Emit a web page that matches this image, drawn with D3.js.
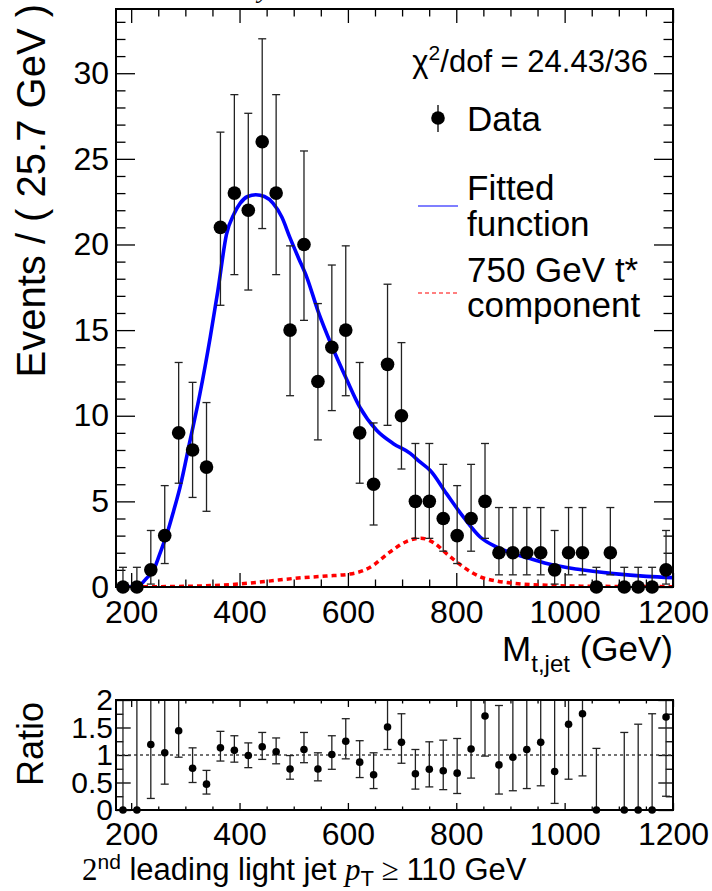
<!DOCTYPE html>
<html>
<head>
<meta charset="utf-8">
<script src="https://cdn.jsdelivr.net/npm/d3@7"></script>
<style>
  body { margin: 0; background: #fff; }
  text { font-family: "Liberation Sans", Arial, Helvetica, sans-serif; fill: #000; }
</style>
</head>
<body>
<div id="chart"></div>
<script>

// bin centres (GeV), 40 bins of 25.7 GeV
var binCenters = [184.85, 210.55, 236.25, 261.95, 287.65, 313.35, 339.05, 364.75, 390.45, 416.15,
  441.85, 467.55, 493.25, 518.95, 544.65, 570.35, 596.05, 621.75, 647.45, 673.15,
  698.85, 724.55, 750.25, 775.95, 801.65, 827.35, 853.05, 878.75, 904.45, 930.15,
  955.85, 981.55, 1007.25, 1032.95, 1058.65, 1084.35, 1110.05, 1135.75, 1161.45, 1187.15];

// events per bin
var counts = [0, 0, 1, 3, 9, 8, 7, 21, 23, 22, 26, 23, 15, 20, 12, 14, 15, 9, 6, 13,
  10, 5, 5, 4, 3, 4, 5, 2, 2, 2, 2, 1, 2, 2, 0, 2, 0, 0, 0, 1];
// error bar ends
var countsLow = [0, 0, 0.17, 1.37, 6.06, 5.23, 4.42, 16.45, 18.24, 17.34, 20.93, 18.24, 11.17, 15.57, 8.59, 10.3, 11.17, 6.06, 3.62, 9.44,
  6.89, 2.84, 2.84, 2.09, 1.37, 2.09, 2.84, 0.71, 0.71, 0.71, 0.71, 0.17, 0.71, 0.71, 0, 0.71, 0, 0, 0, 0.17];
var countsHigh = [1.15, 1.15, 3.3, 5.92, 13.11, 11.95, 10.77, 26.56, 28.75, 27.66, 32.01, 28.75, 19.92, 25.46, 16.55, 18.8, 19.92, 13.11, 9.58, 17.68,
  14.27, 8.38, 8.38, 7.16, 5.92, 7.16, 8.38, 4.64, 4.64, 4.64, 4.64, 3.3, 4.64, 4.64, 1.15, 4.64, 1.15, 1.15, 1.15, 3.3];

// fitted function
var fitX = [172, 200, 215, 228, 241, 253, 266, 278, 290, 309, 327, 346, 360, 376, 390, 401, 415, 430, 446, 462,
  478, 493, 509, 524, 545, 570, 598, 622, 653, 684, 715, 733, 752, 782, 813, 844, 875, 905, 936, 967, 1028, 1090, 1151, 1200];
var fitY = [0, 0, 0.1, 0.5, 0.97, 1.95, 3.1, 4.4, 5.8, 8.6, 11.3, 14.6, 17.3, 20.6, 21.8, 22.4, 22.8, 22.9, 22.8, 22.4,
  21.6, 20.4, 19.2, 18.1, 16.1, 14.1, 12.1, 10.5, 9.15, 8.37, 7.8, 7.3, 6.8, 5.45, 4.09, 2.92, 2.33, 1.95, 1.66, 1.37, 1.02, 0.78, 0.62, 0.55];

// 750 GeV t* component
var sigX = [172, 250, 327, 400, 450, 500, 560, 604, 630, 647, 660, 678, 708, 735, 760, 782, 813, 844, 875, 905, 967, 1030, 1200];
var sigY = [0, 0.02, 0.06, 0.18, 0.33, 0.5, 0.64, 0.76, 0.98, 1.27, 1.6, 2.05, 2.65, 2.85, 2.55, 1.95, 1.17, 0.6, 0.35, 0.22, 0.1, 0.05, 0.02];

// ratio panel (null = off scale)
var ratio = [0, 0, 1.19, 1.04, 1.44, 0.76, 0.47, 1.13, 1.085, 0.99, 1.15, 1.06, 0.745, 1.1, 0.745, 1.01, 1.25, 0.87, 0.64, 1.51,
  1.23, 0.66, 0.74, 0.715, 0.67, 1.11, 1.71, 0.82, 0.96, 1.1, 1.23, 0.7, 1.56, 1.75, 0, null, 0, 0, 0, 1.69];
var ratioLow = [0, 0, 0.21, 0.47, 0.96, 0.5, 0.29, 0.89, 0.87, 0.77, 0.92, 0.84, 0.56, 0.86, 0.53, 0.74, 0.93, 0.59, 0.39, 1.1,
  0.85, 0.38, 0.42, 0.37, 0.3, 0.58, 0.98, 0.29, 0.35, 0.39, 0.44, 0.12, 0.56, 0.62, 0, null, 0, 0, 0, 0.25];
var ratioHigh = [3, 3, 3, 3, 3, 1.13, 0.72, 1.43, 1.35, 1.22, 1.41, 1.31, 0.99, 1.41, 1.04, 1.35, 1.66, 1.26, 1.04, 2.05,
  1.75, 1.1, 1.24, 1.27, 1.3, 3, 3, 1.9, 3, 3, 3, 3, 3, 3, 1.12, null, 1.41, 1.56, 1.75, 3];

var xMajor = [200, 400, 600, 800, 1000, 1200];
var yMajor = [0, 5, 10, 15, 20, 25, 30];
var rMajor = [0, 0.5, 1, 1.5, 2];

var svgWidth = 712;
var svgHeight = 891;

var svg = d3.select("#chart").append("svg")
  .attr("width", svgWidth)
  .attr("height", svgHeight);

var plotLeft = 116, plotRight = 673;
var topY0 = 9, topY1 = 587;
var ratY0 = 700, ratY1 = 810;

var x = d3.scaleLinear().domain([172, 1200]).range([plotLeft, plotRight]);
var y = d3.scaleLinear().domain([0, 33.75]).range([topY1, topY0]);
var yr = d3.scaleLinear().domain([0, 2]).range([ratY1, ratY0]);

var FONT = "Liberation Sans, Arial, Helvetica, sans-serif";

// clip paths
var defs = svg.append("defs");
defs.append("clipPath").attr("id", "clipTop").append("rect")
  .attr("x", plotLeft).attr("y", topY0).attr("width", plotRight - plotLeft).attr("height", topY1 - topY0);
defs.append("clipPath").attr("id", "clipRat").append("rect")
  .attr("x", plotLeft).attr("y", ratY0).attr("width", plotRight - plotLeft).attr("height", ratY1 - ratY0);

function addAxis(axis, transform, size) {
  var g = svg.append("g").attr("transform", transform).call(axis);
  g.select(".domain").remove();
  g.attr("font-family", FONT).attr("font-size", size || 32);
  g.selectAll("line").attr("stroke", "#000").attr("stroke-width", 1.3);
  g.selectAll("text").attr("fill", "#000");
  return g;
}

function minors(lo, hi, step, skip) {
  return d3.range(lo, hi + 1e-9, step).filter(function(v) {
    return skip.every(function(s) { return Math.abs(s - v) > 1e-6; });
  });
}

// ---------- top panel axes ----------
var xMinor = minors(200, 1200, 50, xMajor);
addAxis(d3.axisBottom(x).tickValues(xMajor).tickSize(-14).tickPadding(13).tickFormat(d3.format("d")), "translate(0," + topY1 + ")");
addAxis(d3.axisBottom(x).tickValues(xMinor).tickSize(-7.5).tickFormat(""), "translate(0," + topY1 + ")");
addAxis(d3.axisTop(x).tickValues(xMajor).tickSize(-14).tickFormat(""), "translate(0," + topY0 + ")");
addAxis(d3.axisTop(x).tickValues(xMinor).tickSize(-7.5).tickFormat(""), "translate(0," + topY0 + ")");

var yMinor = minors(0, 33, 1, yMajor);
addAxis(d3.axisLeft(y).tickValues(yMajor).tickSize(-19).tickPadding(7).tickFormat(d3.format("d")), "translate(" + plotLeft + ",0)");
addAxis(d3.axisLeft(y).tickValues(yMinor).tickSize(-9.5).tickFormat(""), "translate(" + plotLeft + ",0)");
addAxis(d3.axisRight(y).tickValues(yMajor).tickSize(-19).tickFormat(""), "translate(" + plotRight + ",0)");
addAxis(d3.axisRight(y).tickValues(yMinor).tickSize(-9.5).tickFormat(""), "translate(" + plotRight + ",0)");

// signal component (dashed red)
var sigLine = d3.line()
  .x(function(d, i) { return x(sigX[i]); })
  .y(function(d) { return y(d); })
  .curve(d3.curveMonotoneX);
svg.append("path")
  .datum(sigY)
  .attr("clip-path", "url(#clipTop)")
  .attr("d", sigLine)
  .attr("fill", "none")
  .attr("stroke", "#ff0000")
  .attr("stroke-width", 3.5)
  .attr("stroke-dasharray", "5,4");

// fitted function (blue)
var fitLine = d3.line()
  .x(function(d, i) { return x(fitX[i]); })
  .y(function(d) { return y(d); })
  .curve(d3.curveMonotoneX);
svg.append("path")
  .datum(fitY)
  .attr("clip-path", "url(#clipTop)")
  .attr("d", fitLine)
  .attr("fill", "none")
  .attr("stroke", "#0000ff")
  .attr("stroke-width", 3.6);

// data error bars + points
var topData = binCenters.map(function(c, i) {
  return { x: c, n: counts[i], lo: countsLow[i], hi: countsHigh[i] };
});
var errG = svg.append("g").attr("stroke", "#222").attr("stroke-width", 1.3).attr("clip-path", "url(#clipTop)");
topData.forEach(function(d) {
  var cx = x(d.x);
  errG.append("line").attr("x1", cx).attr("x2", cx).attr("y1", y(d.lo)).attr("y2", y(d.hi));
  errG.append("line").attr("x1", cx - 4).attr("x2", cx + 4).attr("y1", y(d.hi)).attr("y2", y(d.hi));
  if (d.lo > 0) {
    errG.append("line").attr("x1", cx - 4).attr("x2", cx + 4).attr("y1", y(d.lo)).attr("y2", y(d.lo));
  }
});
svg.append("g").selectAll("circle")
  .data(topData)
  .enter()
  .append("circle")
  .attr("cx", function(d) { return x(d.x); })
  .attr("cy", function(d) { return y(d.n); })
  .attr("r", 6.8)
  .attr("fill", "#000");

// frame
svg.append("rect")
  .attr("x", plotLeft).attr("y", topY0)
  .attr("width", plotRight - plotLeft).attr("height", topY1 - topY0)
  .attr("fill", "none").attr("stroke", "#000").attr("stroke-width", 2);

// cut-off title glyph at the very top (only its descender shows, as in the reference)
svg.append("text")
  .attr("x", 258).attr("y", -2)
  .style("font-family", "Liberation Serif, serif")
  .style("font-style", "italic")
  .attr("font-size", 26)
  .text("y");

// axis titles
svg.append("text")
  .attr("transform", "translate(45,4) rotate(-90)")
  .attr("text-anchor", "end")
  .attr("font-size", 40)
  .text("Events / ( 25.7 GeV )");

var xt = svg.append("text")
  .attr("x", plotRight).attr("y", 661)
  .attr("text-anchor", "end")
  .attr("font-size", 35);
xt.append("tspan").text("M");
xt.append("tspan").attr("dy", 11).attr("font-size", 24).text("t,jet");
xt.append("tspan").attr("dy", -11).text(" (GeV)");

// legend
var chi = svg.append("text").attr("x", 648).attr("y", 72).attr("text-anchor", "end").attr("font-size", 31);
chi.append("tspan").text("\u03c7");
chi.append("tspan").attr("dy", -12).attr("font-size", 21).text("2");
chi.append("tspan").attr("dy", 12).text("/dof = 24.43/36");

svg.append("line").attr("x1", 438).attr("x2", 438).attr("y1", 105).attr("y2", 132)
  .attr("stroke", "#000").attr("stroke-width", 1.3);
svg.append("circle").attr("cx", 438).attr("cy", 118).attr("r", 6.8).attr("fill", "#000");
svg.append("text").attr("x", 467).attr("y", 131).attr("font-size", 35).text("Data");

svg.append("line").attr("x1", 418).attr("x2", 458).attr("y1", 206).attr("y2", 206)
  .attr("stroke", "#0000ff").attr("stroke-width", 1.2);
svg.append("text").attr("x", 467).attr("y", 200).attr("font-size", 35).text("Fitted");
svg.append("text").attr("x", 467).attr("y", 236).attr("font-size", 35).text("function");

svg.append("line").attr("x1", 418).attr("x2", 458).attr("y1", 293).attr("y2", 293)
  .attr("stroke", "#ff0000").attr("stroke-width", 1.2).attr("stroke-dasharray", "4,3");
svg.append("text").attr("x", 467).attr("y", 282).attr("font-size", 35).text("750 GeV t*");
svg.append("text").attr("x", 467).attr("y", 317).attr("font-size", 35).text("component");

// ---------- ratio panel ----------
addAxis(d3.axisBottom(x).tickValues(xMajor).tickSize(-7).tickPadding(12).tickFormat(d3.format("d")), "translate(0," + ratY1 + ")");
addAxis(d3.axisBottom(x).tickValues(xMinor).tickSize(-3.5).tickFormat(""), "translate(0," + ratY1 + ")");
addAxis(d3.axisTop(x).tickValues(xMajor).tickSize(-7).tickFormat(""), "translate(0," + ratY0 + ")");
addAxis(d3.axisTop(x).tickValues(xMinor).tickSize(-3.5).tickFormat(""), "translate(0," + ratY0 + ")");

var rMinor = [0.25, 0.75, 1.25, 1.75];
addAxis(d3.axisLeft(yr).tickValues(rMajor).tickSize(-14.7).tickPadding(3).tickFormat(d3.format("~g")), "translate(" + plotLeft + ",0)", 30);
addAxis(d3.axisLeft(yr).tickValues(rMinor).tickSize(-7.3).tickFormat(""), "translate(" + plotLeft + ",0)");
addAxis(d3.axisRight(yr).tickValues(rMajor).tickSize(-14.7).tickFormat(""), "translate(" + plotRight + ",0)");
addAxis(d3.axisRight(yr).tickValues(rMinor).tickSize(-7.3).tickFormat(""), "translate(" + plotRight + ",0)");

svg.append("line")
  .attr("x1", plotLeft).attr("x2", plotRight)
  .attr("y1", yr(1)).attr("y2", yr(1))
  .attr("stroke", "#444").attr("stroke-width", 1.4).attr("stroke-dasharray", "3,3");

var ratData = binCenters.map(function(c, i) {
  return { x: c, r: ratio[i], lo: ratioLow[i], hi: ratioHigh[i] };
}).filter(function(d) { return d.r !== null; });

var rErr = svg.append("g").attr("stroke", "#222").attr("stroke-width", 1.3).attr("clip-path", "url(#clipRat)");
ratData.forEach(function(d) {
  var cx = x(d.x);
  rErr.append("line").attr("x1", cx).attr("x2", cx).attr("y1", yr(d.lo)).attr("y2", yr(d.hi));
  if (d.hi < 2) {
    rErr.append("line").attr("x1", cx - 4).attr("x2", cx + 4).attr("y1", yr(d.hi)).attr("y2", yr(d.hi));
  }
  if (d.lo > 0) {
    rErr.append("line").attr("x1", cx - 4).attr("x2", cx + 4).attr("y1", yr(d.lo)).attr("y2", yr(d.lo));
  }
});
svg.append("g").selectAll("circle")
  .data(ratData)
  .enter()
  .append("circle")
  .attr("cx", function(d) { return x(d.x); })
  .attr("cy", function(d) { return yr(d.r); })
  .attr("r", 3.8)
  .attr("fill", "#000");

svg.append("rect")
  .attr("x", plotLeft).attr("y", ratY0)
  .attr("width", plotRight - plotLeft).attr("height", ratY1 - ratY0)
  .attr("fill", "none").attr("stroke", "#000").attr("stroke-width", 2);

svg.append("text")
  .attr("transform", "translate(43,744) rotate(-90)")
  .attr("text-anchor", "middle")
  .attr("font-size", 36)
  .text("Ratio");

// bottom caption
var cap = svg.append("text").attr("x", 82).attr("y", 880).attr("font-size", 31);
cap.append("tspan").style("font-family", "Liberation Serif, serif").text("2");
cap.append("tspan").attr("dy", -11).attr("font-size", 21).text("nd");
cap.append("tspan").attr("dy", 11).text(" leading light jet ");
cap.append("tspan").style("font-family", "Liberation Serif, serif").style("font-style", "italic").text("p");
cap.append("tspan").attr("dy", 6).attr("font-size", 22).text("T");
cap.append("tspan").attr("dy", -6).style("font-family", "Liberation Serif, serif").text(" \u2265 ");
cap.append("tspan").text("110 GeV");

</script>
</body>
</html>
